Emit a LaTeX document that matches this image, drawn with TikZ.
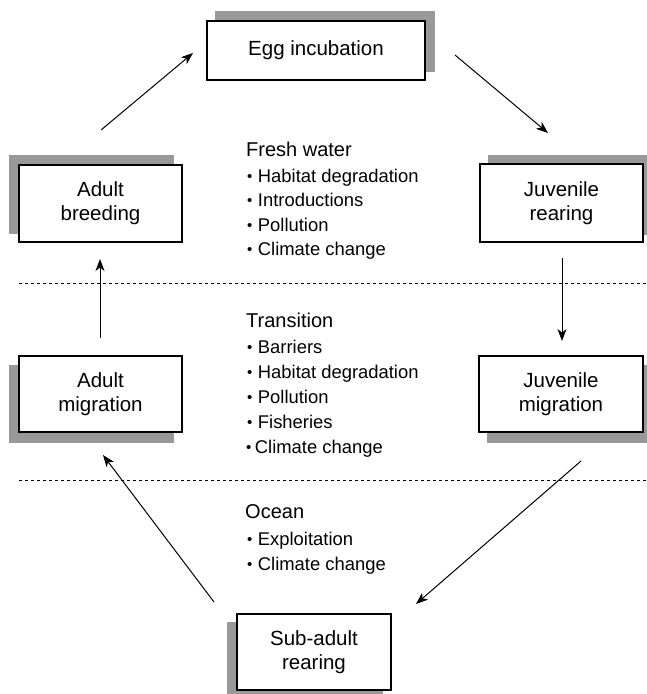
\documentclass[tikz,border=0pt]{standalone}
\usepackage{fontspec}
\setmainfont{Liberation Sans}
\usetikzlibrary{arrows.meta,backgrounds}
\definecolor{shadowgray}{HTML}{999999}
\tikzset{
  stage/.style={draw=black, line width=1.2pt, fill=white, inner sep=0pt, align=center,
    font=\fontsize{20.5}{24}\selectfont},
  heading/.style={anchor=base west, inner sep=0pt, font=\fontsize{20}{24}\selectfont},
  item/.style={anchor=base west, inner sep=0pt, font=\fontsize{18.4}{22}\selectfont},
  flow/.style={line width=1pt, -{Stealth[length=12pt,width=9pt,inset=3.5pt]}},
  zone/.style={line width=1pt, dash pattern=on 3pt off 3pt}
}
\newcommand{\dropshadow}[3]{%
  \begin{pgfonlayer}{background}
    \fill[shadowgray] ([shift={(#2,#3)}]#1.south west) rectangle ([shift={(#2,#3)}]#1.north east);
  \end{pgfonlayer}}
\newcommand{\smallbul}{\raisebox{1pt}{\fontsize{15}{15}\selectfont •}}
\begin{document}
\begin{tikzpicture}[x=1pt,y=-1pt]
\useasboundingbox (0,0) rectangle (646,694);

% stage boxes
\node[stage, minimum width=218pt, minimum height=59pt] (egg) at (316,50.5) {Egg incubation};
\node[stage, minimum width=163pt, minimum height=77pt] (abreed) at (100.5,203.5) {Adult\\breeding};
\node[stage, minimum width=163pt, minimum height=78pt] (jrear) at (561.5,203) {Juvenile\\rearing};
\node[stage, minimum width=163pt, minimum height=76pt] (amig) at (100.5,394) {Adult\\migration};
\node[stage, minimum width=164pt, minimum height=76pt] (jmig) at (561,394) {Juvenile\\migration};
\node[stage, minimum width=154pt, minimum height=76pt] (sub) at (314,652) {Sub-adult\\rearing};

\dropshadow{egg}{9}{-9}
\dropshadow{abreed}{-9}{-9}
\dropshadow{jrear}{9}{-8}
\dropshadow{amig}{-9}{10}
\dropshadow{jmig}{9}{10}
\dropshadow{sub}{-9}{9}

% zone separators
\coordinate (z1a) at (19,283);
\coordinate (z1b) at (646,283);
\coordinate (z2a) at (19,480);
\coordinate (z2b) at (646,480);
\draw[zone] (z1a) -- (z1b);
\draw[zone] (z2a) -- (z2b);

% connector end points
\coordinate (a1s) at (101,130);  \coordinate (a1e) at (193,53);
\coordinate (a2s) at (455,55);   \coordinate (a2e) at (548,133);
\coordinate (a3s) at (562,258);  \coordinate (a3e) at (562,341);
\coordinate (a4s) at (581,461);  \coordinate (a4e) at (416,604);
\coordinate (a5s) at (214,602);  \coordinate (a5e) at (103,455);
\coordinate (a6s) at (100,338);  \coordinate (a6e) at (100,259);
\draw[flow] (a1s) -- (a1e);
\draw[flow] (a2s) -- (a2e);
\draw[flow] (a3s) -- (a3e);
\draw[flow] (a4s) -- (a4e);
\draw[flow] (a5s) -- (a5e);
\draw[flow] (a6s) -- (a6e);

% fresh water
\node[heading] (fw) at (246,156) {Fresh water};
\node[item] (fw1) at (247,182) {\smallbul\hspace{5.5pt}Habitat degradation};
\node[item] (fw2) at (247,206.5) {\smallbul\hspace{5.5pt}Introductions};
\node[item] (fw3) at (247,231) {\smallbul\hspace{5.5pt}Pollution};
\node[item] (fw4) at (247,255.5) {\smallbul\hspace{5.5pt}Climate change};

% transition
\node[heading] (tr) at (246,327) {Transition};
\node[item] (tr1) at (247,353) {\smallbul\hspace{5.5pt}Barriers};
\node[item] (tr2) at (247,378) {\smallbul\hspace{5.5pt}Habitat degradation};
\node[item] (tr3) at (247,403) {\smallbul\hspace{5.5pt}Pollution};
\node[item] (tr4) at (247,428) {\smallbul\hspace{5.5pt}Fisheries};
\node[item] (tr5) at (246,453) {\smallbul\hspace{3.5pt}Climate change};

% ocean
\node[heading] (oc) at (245,518) {Ocean};
\node[item] (oc1) at (247,545) {\smallbul\hspace{5.5pt}Exploitation};
\node[item] (oc2) at (247,570) {\smallbul\hspace{5.5pt}Climate change};
\end{tikzpicture}
\end{document}
